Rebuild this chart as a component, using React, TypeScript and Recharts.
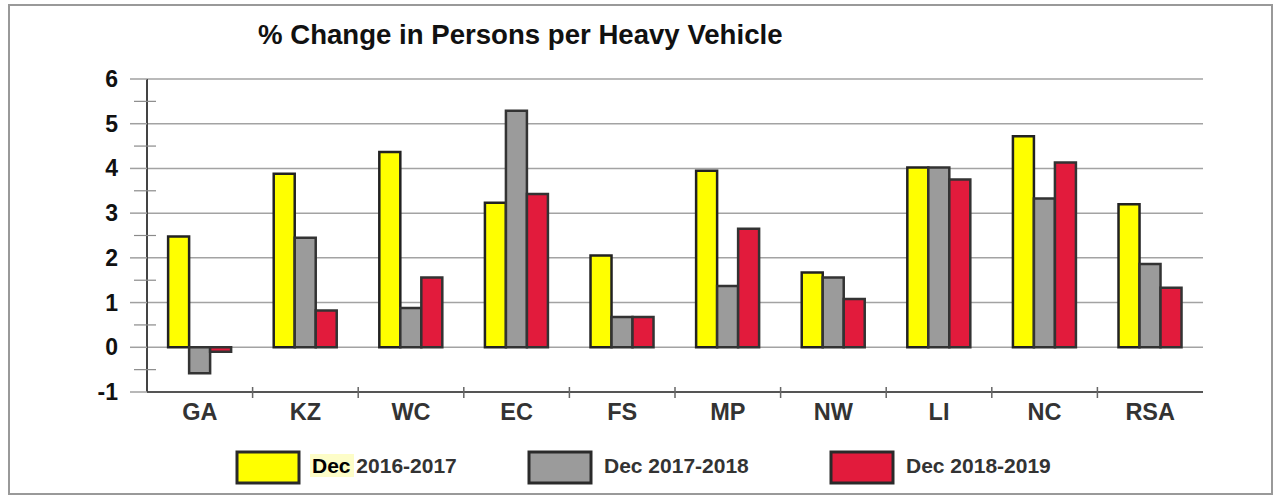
import React from 'react';
import { BarChart, Bar, XAxis, YAxis, CartesianGrid } from 'recharts';

const categories = ['GA', 'KZ', 'WC', 'EC', 'FS', 'MP', 'NW', 'LI', 'NC', 'RSA'];
const dec2016_2017 = [2.48, 3.88, 4.37, 3.23, 2.05, 3.95, 1.67, 4.02, 4.72, 3.2];
const dec2017_2018 = [-0.58, 2.45, 0.88, 5.29, 0.68, 1.37, 1.56, 4.02, 3.33, 1.86];
const dec2018_2019 = [-0.1, 0.82, 1.56, 3.43, 0.68, 2.65, 1.08, 3.75, 4.13, 1.33];
const seriesNames = ['Dec 2016-2017', 'Dec 2017-2018', 'Dec 2018-2019'];
const seriesColors = ['#ffff00', '#9b9b9b', '#e21b3c'];
const yTicks = [-1, -0.5, 0, 0.5, 1, 1.5, 2, 2.5, 3, 3.5, 4, 4.5, 5, 5.5, 6];
const gridValues = [0, 1, 2, 3, 4, 5, 6];
const title = '% Change in Persons per Heavy Vehicle';

const data = categories.map((name, i) => ({
  name,
  a: dec2016_2017[i],
  b: dec2017_2018[i],
  c: dec2018_2019[i],
}));

const W = 1279;
const H = 497;
const margin = { top: 79, right: 76, bottom: 45, left: 87 };
const Y_AXIS_W = 60;
const X_AXIS_H = 60;
const plotW = W - margin.left - Y_AXIS_W - margin.right;
const band = plotW / categories.length;
const FONT = '"Liberation Sans", Arial, Helvetica, sans-serif';

const YTick = (props: any) => {
  const { x, y, payload } = props;
  const v = payload.value;
  const major = Number.isInteger(v);
  return (
    <g>
      {major ? (
        <line x1={x - 17} x2={x} y1={y} y2={y} stroke="#a0a0a0" strokeWidth={1.5} />
      ) : (
        <line x1={x - 13} x2={x + 9} y1={y} y2={y} stroke="#8a8a8a" strokeWidth={1.2} />
      )}
      {major && (
        <text x={x - 29} y={y} dy={8} textAnchor="end" fontFamily={FONT} fontWeight="bold" fontSize={23} fill="#111">
          {v}
        </text>
      )}
    </g>
  );
};

const XTick = (props: any) => {
  const { x, y, payload, index } = props;
  return (
    <g>
      {index > 0 && (
        <line x1={x - band / 2} x2={x - band / 2} y1={y - 5} y2={y + 6} stroke="#666" strokeWidth={1.5} />
      )}
      <text x={x} y={y} dy={28} textAnchor="middle" fontFamily={FONT} fontWeight="bold" fontSize={23.5} fill="#333">
        {payload.value}
      </text>
    </g>
  );
};

const legendX = [237, 529, 831];

export default function App() {
  return (
    <div style={{ position: 'absolute', left: 0, top: 0, width: W, height: H, background: '#fff' }}>
      <BarChart
        width={W}
        height={H}
        data={data}
        margin={margin}
        barGap={0}
        barCategoryGap="20%"
      >
        <CartesianGrid vertical={false} horizontalValues={gridValues} stroke="#a3a3a3" strokeWidth={1.5} />
        <XAxis
          dataKey="name"
          height={X_AXIS_H}
          axisLine={{ stroke: '#555', strokeWidth: 2 }}
          tickLine={false}
          tickSize={0}
          tickMargin={0}
          tick={<XTick />}
          interval={0}
        />
        <YAxis
          domain={[-1, 6]}
          ticks={yTicks}
          width={Y_AXIS_W}
          axisLine={{ stroke: '#444', strokeWidth: 2 }}
          tickLine={false}
          tickSize={0}
          tickMargin={0}
          tick={<YTick />}
          interval={0}
          allowDecimals
        />
        <YAxis
          yAxisId="r"
          orientation="right"
          domain={[-1, 6]}
          width={0}
          axisLine={{ stroke: '#555', strokeWidth: 2 }}
          tick={false}
          tickLine={false}
        />
        <Bar dataKey="a" name={seriesNames[0]} fill={seriesColors[0]} stroke="#222" strokeWidth={2.5} isAnimationActive={false} />
        <Bar dataKey="b" name={seriesNames[1]} fill={seriesColors[1]} stroke="#333" strokeWidth={2.5} isAnimationActive={false} />
        <Bar dataKey="c" name={seriesNames[2]} fill={seriesColors[2]} stroke="#333" strokeWidth={2.5} isAnimationActive={false} />
      </BarChart>
      <svg width={W} height={H} style={{ position: 'absolute', left: 0, top: 0, pointerEvents: 'none' }}>
        <rect x={9} y={5} width={1263} height={489} fill="none" stroke="#999" strokeWidth={2} />
        <text x={258} y={43.5} fontFamily={FONT} fontWeight="bold" fontSize={27.6} fill="#111">
          {title}
        </text>
        {seriesNames.map((n, i) => (
          <g key={n}>
            <rect x={legendX[i]} y={452} width={62} height={31} fill={seriesColors[i]} stroke="#2a2a2a" strokeWidth={3} />
            {i === 0 && <rect x={310} y={454} width={44} height={23} fill="#fdfdc8" />}
            <text x={legendX[i] + 75} y={473} fontFamily={FONT} fontWeight="bold" fontSize={21} fill="#333">
              {i === 0 ? (
                <>
                  <tspan fill="#000">Dec</tspan>
                  {n.slice(3)}
                </>
              ) : (
                n
              )}
            </text>
          </g>
        ))}
      </svg>
    </div>
  );
}
